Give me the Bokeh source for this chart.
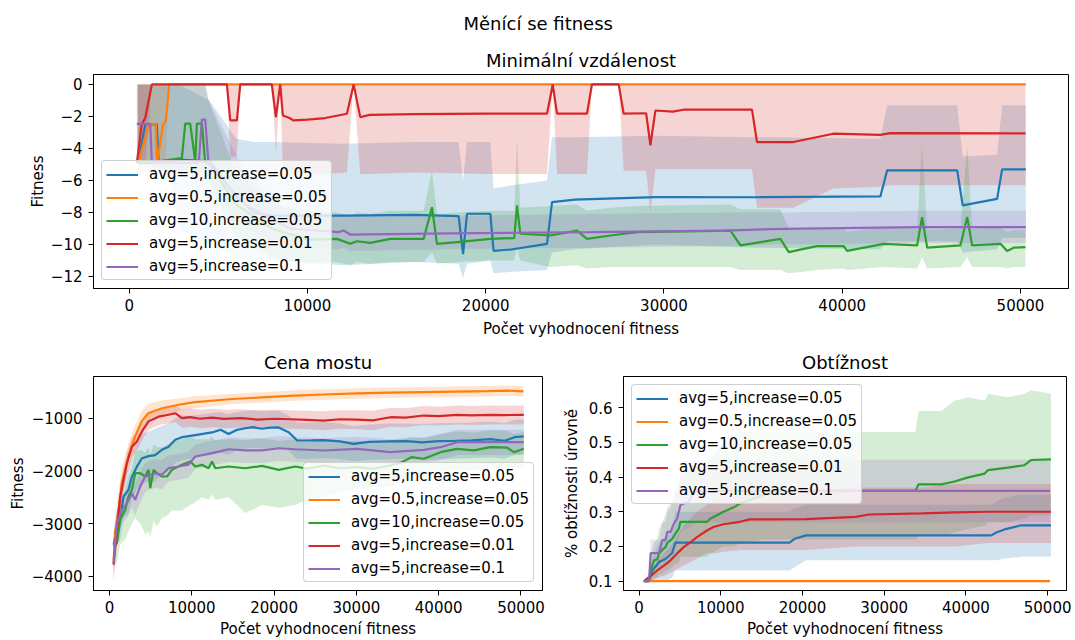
from bokeh.plotting import figure
from bokeh.layouts import column, row
from bokeh.models import Range1d, FixedTicker, Title
from bokeh.embed import file_html
from bokeh.resources import INLINE

FONT = "DejaVu Sans"

# ---------------- data ----------------
labels = ["avg=5,increase=0.05", "avg=0.5,increase=0.05", "avg=10,increase=0.05",
          "avg=5,increase=0.01", "avg=5,increase=0.1"]
colors = ["#1f77b4", "#ff7f0e", "#2ca02c", "#d62728", "#9467bd"]

x_ticks = [0, 10000, 20000, 30000, 40000, 50000]
x_tick_labels = ["0", "10000", "20000", "30000", "40000", "50000"]
mv_y_ticks = [-12, -10, -8, -6, -4, -2, 0]
mv_y_tick_labels = ["−12", "−10", "−8", "−6", "−4", "−2", "0"]
cm_y_ticks = [-4000, -3000, -2000, -1000]
cm_y_tick_labels = ["−4000", "−3000", "−2000", "−1000"]
ob_y_ticks = [0.1, 0.2, 0.3, 0.4, 0.5, 0.6]
ob_y_tick_labels = ["0.1", "0.2", "0.3", "0.4", "0.5", "0.6"]

# --- Minimální vzdálenost ---
mv_b_x = [500, 900, 1550, 1650, 2300, 2800, 4500, 6000, 7000, 8000, 12000, 16000, 18480, 18730, 18950, 20260, 20440,
          21500, 23440, 23720, 25000, 29500, 35000, 42140, 42520, 46450, 46760, 48690, 48970, 50300]
mv_b_m = [-4.9, -2.5, -2.5, -4.9, -4.9, -4.7, -4.8, -7.0, -8.0, -8.2, -8.2, -8.15, -8.23, -10.6, -8.08, -8.08, -10.4,
          -10.3, -9.96, -7.35, -7.2, -7.04, -7.05, -7.0, -5.37, -5.37, -7.56, -7.15, -5.31, -5.31]
mv_b_lo = [-5.0, -5.0, -5.0, -5.0, -6.0, -9.0, -10.0, -10.8, -11.0, -11.0, -11.3, -11.1, -11.2, -12.1, -11.2, -11.0,
           -11.8, -11.7, -11.6, -10.5, -10.3, -10.0, -10.2, -10.3, -9.8, -9.8, -10.5, -10.3, -9.6, -9.6]
mv_b_hi = [0, 0, 0, 0, 0, 0, -1.0, -3.4, -3.6, -3.6, -3.7, -3.6, -3.6, -6.0, -3.6, -3.6, -6.5, -6.3, -6.0, -3.3,
           -3.3, -3.2, -3.3, -3.4, -1.3, -1.3, -4.5, -4.4, -1.3, -1.3]

mv_o_x = [500, 1100, 1500, 1560, 1900, 2050, 2250, 50300]
mv_o_m = [-4.9, -2.5, -2.5, -4.9, -2.5, -2.3, 0.0, 0.0]
mv_o_lo = [-5.0, -5.0, -5.0, -5.0, -5.0, -4.6, 0.0, 0.0]
mv_o_hi = [0.0, 0.0, 0.0, 0.0, 0.0, 0.0, 0.0, 0.0]

mv_g_x = [500, 1000, 2955, 3143, 3423, 3704, 3797, 4077, 4265, 4452, 6000, 8000, 10000, 11655, 12400, 12776, 13524,
          14647, 16517, 16985, 17267, 18388, 20258, 21600, 21756, 21942, 23625, 25120, 25680, 26990, 28490, 33730,
          34290, 36530, 37000, 37840, 38590, 40085, 40270, 42330, 44200, 44480, 44765, 46630, 47010, 47290, 48880,
          49250, 49620, 50280]
mv_g_m = [-4.9, -4.9, -4.6, -2.45, -2.45, -4.8, -2.45, -2.45, -4.9, -4.9, -7.5, -9.0, -9.7, -9.65, -9.96, -9.8, -9.9,
          -9.65, -9.65, -7.67, -9.96, -9.85, -9.65, -9.6, -7.56, -9.33, -9.44, -9.13, -9.65, -9.44, -9.23, -9.13,
          -10.06, -9.65, -10.48, -10.27, -10.1, -10.1, -10.4, -9.96, -10.06, -8.29, -10.2, -10.06, -8.29, -10.06,
          -9.96, -10.4, -10.2, -10.17]
mv_g_lo = [-5.5, -5.5, -5.5, -5.5, -5.5, -5.5, -5.5, -5.5, -5.5, -6.0, -9.5, -10.8, -11.2, -11.1, -11.3, -11.1, -11.2,
           -11.1, -11.1, -10.5, -11.2, -11.1, -11.0, -11.0, -10.2, -11.0, -11.4, -11.3, -11.5, -11.4, -11.4, -11.4,
           -11.6, -11.6, -11.8, -11.7, -11.6, -11.5, -11.6, -11.4, -11.5, -10.8, -11.5, -11.4, -10.8, -11.4, -11.4,
           -11.5, -11.4, -11.4]
mv_g_hi = [0, 0, 0, 0, 0, 0, 0, 0, 0, -1.0, -5.5, -7.5, -7.9, -8.0, -8.2, -8.0, -8.1, -7.9, -7.9, -5.4, -8.1, -8.0,
           -7.9, -7.9, -3.3, -7.7, -7.6, -7.5, -7.9, -7.7, -7.6, -7.5, -7.8, -7.8, -9.0, -9.1, -9.0, -9.0, -9.2, -8.9,
           -9.0, -3.8, -9.1, -9.0, -3.8, -9.0, -8.9, -9.2, -9.1, -9.1]

mv_r_x = [430, 700, 900, 1270, 5480, 5670, 6040, 6230, 8000, 8230, 8470, 8620, 9000, 9200, 10000, 11000, 12215, 12590,
          12960, 13500, 16000, 20000, 23440, 23760, 24000, 25680, 25960, 27460, 27740, 29000, 29240, 29520, 30500,
          31080, 34940, 35220, 37260, 39500, 42140, 42700, 50280]
mv_r_m = [-4.9, -2.5, -2.1, 0.0, 0.0, -2.25, -2.25, 0.0, 0.0, -2.04, 0.0, -1.94, -2.1, -2.25, -2.2, -2.1, -1.83, 0.0,
          -2.04, -1.9, -1.85, -1.83, -1.83, 0.0, -1.83, -1.83, 0.0, 0.0, -1.83, -1.8, -3.8, -1.63, -1.7, -1.58, -1.58,
          -3.6, -3.6, -3.08, -3.15, -3.04, -3.06]
mv_r_lo = [-5.0, -5.0, -5.0, 0.0, 0.0, -4.5, -4.5, 0.0, 0.0, -4.3, 0.0, -5.3, -5.5, -5.6, -5.6, -5.6, -5.5, 0.0, -5.6,
           -5.6, -5.5, -5.6, -5.6, 0.0, -5.6, -5.6, 0.0, 0.0, -5.4, -5.4, -8.0, -5.3, -5.3, -5.3, -5.3, -7.7, -7.7,
           -6.5, -6.4, -6.3, -6.3]
mv_r_hi = [0.0, 0.0, 0.0, 0.0, 0.0, 0.0, 0.0, 0.0, 0.0, 0.0, 0.0, 0.0, 0.0, 0.0, 0.0, 0.0, 0.0, 0.0, 0.0, 0.0, 0.0,
           0.0, 0.0, 0.0, 0.0, 0.0, 0.0, 0.0, 0.0, 0.0, 0.0, 0.0, 0.0, 0.0, 0.0, 0.0, 0.0, 0.0, 0.0, 0.0, 0.0]

mv_p_x = [430, 1180, 1270, 3900, 4077, 4265, 4452, 6500, 9000, 11750, 12030, 12400, 18000, 25870, 33350, 36700, 44200,
          50300]
mv_p_m = [-2.46, -2.46, -4.9, -4.9, -2.2, -2.2, -5.0, -7.5, -9.0, -9.23, -9.13, -9.38, -9.3, -9.23, -9.13, -9.02,
          -8.92, -8.92]
mv_p_lo = [-5.0, -5.0, -5.5, -5.5, -5.5, -5.5, -6.0, -9.0, -10.2, -10.3, -10.2, -10.4, -10.3, -10.2, -10.1, -10.0,
           -9.9, -9.9]
mv_p_hi = [0, 0, 0, 0, 0, 0, -1.0, -5.5, -8.0, -8.2, -8.1, -8.2, -8.2, -8.1, -8.0, -8.0, -7.9, -7.9]

# --- Cena mostu ---
cm_b_x = [500, 900, 1300, 1700, 2310, 2720, 3330, 3940, 4745, 5555, 6370, 7175, 7990, 8800, 10420, 12450, 13500,
          14470, 15500, 16500, 17500, 18530, 19500, 20560, 21770, 22810, 24500, 26030, 28000, 29680, 31500, 34000,
          36000, 38000, 40000, 42000, 44000, 46290, 48000, 49200, 50340]
cm_b_m = [-3400, -3050, -2900, -2490, -2360, -2110, -1920, -1760, -1720, -1700, -1600, -1540, -1410, -1360, -1320,
          -1270, -1220, -1300, -1220, -1190, -1170, -1200, -1180, -1175, -1266, -1423, -1420, -1415, -1440, -1486,
          -1450, -1440, -1435, -1460, -1435, -1430, -1420, -1397, -1430, -1360, -1345]
cm_b_hi = [-3150, -2750, -2550, -2100, -1950, -1700, -1500, -1300, -1250, -1200, -1150, -1100, -1000, -950, -950,
           -900, -880, -920, -880, -860, -850, -870, -860, -860, -950, -1080, -1080, -1070, -1100, -1150, -1120,
           -1100, -1100, -1110, -1090, -1090, -1080, -1060, -1090, -1030, -1020]
cm_b_lo = [-3650, -3400, -3300, -2900, -2800, -2550, -2350, -2250, -2200, -2200, -2050, -2000, -1850, -1800, -1750,
           -1700, -1650, -1700, -1600, -1580, -1560, -1580, -1560, -1560, -1620, -1780, -1770, -1760, -1780, -1820,
           -1790, -1780, -1770, -1800, -1780, -1770, -1760, -1740, -1770, -1700, -1680]

cm_o_x = [500, 700, 1100, 1500, 2300, 3100, 3900, 4700, 6400, 8400, 10400, 14500, 18500, 22500, 26000, 30000, 34000,
          38000, 42000, 46000, 48500, 50300]
cm_o_m = [-3700, -3150, -2750, -2230, -1730, -1350, -1060, -905, -810, -745, -695, -640, -605, -570, -550, -530, -515,
          -505, -495, -487, -478, -490]
cm_o_hi = [-3400, -2850, -2420, -1930, -1480, -1130, -860, -725, -660, -625, -585, -540, -505, -470, -450, -430, -415,
           -405, -395, -387, -378, -390]
cm_o_lo = [-4000, -3450, -3080, -2530, -1980, -1570, -1260, -1085, -960, -865, -805, -740, -705, -670, -650, -630,
           -615, -605, -595, -587, -578, -590]

cm_g_x = [490, 900, 1300, 1910, 2310, 2720, 3125, 3730, 4340, 4745, 4950, 5350, 5760, 6370, 6980, 7580, 8800, 9810,
          10420, 11230, 12040, 12450, 12860, 14470, 16500, 18530, 20560, 22580, 24000, 26030, 28000, 30080, 32000,
          34130, 35480, 36700, 38190, 40220, 42240, 44260, 46290, 48320, 49130, 50340]
cm_g_m = [-3436, -3373, -2929, -2739, -2487, -2360, -2044, -2044, -2107, -1980, -2329, -1980, -2044, -2107, -2107,
          -1980, -1885, -1822, -1917, -1885, -1950, -1822, -1950, -1917, -1950, -1905, -1980, -1917, -1960, -1898,
          -1950, -1930, -1960, -1898, -1835, -1740, -1770, -1645, -1581, -1610, -1550, -1560, -1645, -1581]
cm_g_hi = [-3150, -3050, -2600, -2350, -2100, -1950, -1650, -1600, -1650, -1550, -1700, -1500, -1550, -1550, -1500,
           -1450, -1400, -1350, -1400, -1400, -1400, -1350, -1420, -1400, -1420, -1380, -1430, -1400, -1450, -1400,
           -1440, -1430, -1450, -1420, -1400, -1350, -1380, -1300, -1250, -1270, -1230, -1240, -1300, -1260]
cm_g_lo = [-3800, -3750, -3400, -3300, -3150, -3000, -2900, -3000, -3200, -3150, -3250, -2950, -3050, -2900, -2850,
           -2750, -2750, -2650, -2600, -2500, -2550, -2450, -2550, -2500, -2800, -2650, -2700, -2650, -2550, -2500,
           -2400, -2350, -2320, -2300, -2200, -2050, -2100, -2000, -1990, -2000, -1950, -1950, -1970, -1930]

cm_r_x = [490, 900, 1300, 1700, 2115, 2720, 3330, 3940, 4745, 5960, 7175, 7990, 8800, 9800, 11000, 12500, 13860,
          16000, 17910, 20000, 22000, 24000, 26030, 28000, 30080, 32000, 34130, 36000, 38190, 40000, 42240, 44000,
          46290, 48000, 50340]
cm_r_m = [-3780, -3120, -2490, -2170, -1850, -1540, -1440, -1250, -1060, -970, -935, -905, -1000, -980, -1010, -990,
          -1012, -1000, -1025, -1010, -1020, -1030, -1044, -1020, -1025, -1040, -981, -990, -949, -960, -936, -945,
          -936, -940, -936]
cm_r_hi = [-3530, -2870, -2240, -1940, -1650, -1360, -1270, -1090, -910, -820, -785, -755, -830, -810, -840, -820,
           -840, -830, -850, -840, -850, -860, -870, -850, -850, -860, -800, -810, -770, -780, -760, -770, -760, -765,
           -760]
cm_r_lo = [-4100, -3400, -2750, -2400, -2050, -1730, -1620, -1420, -1220, -1130, -1100, -1070, -1180, -1160, -1190,
           -1170, -1190, -1180, -1210, -1190, -1200, -1210, -1230, -1200, -1210, -1230, -1160, -1170, -1130, -1140,
           -1120, -1130, -1120, -1120, -1120]

cm_p_x = [490, 900, 1505, 2115, 2720, 3125, 3730, 4340, 4950, 5555, 6370, 7175, 8390, 9600, 10420, 12450, 13660,
          14470, 16500, 18530, 20560, 22580, 26030, 30080, 34130, 38190, 40220, 42240, 46290, 50340]
cm_p_m = [-3753, -2993, -2739, -2613, -2424, -2550, -2297, -2107, -2075, -2044, -2075, -1949, -1917, -1880, -1727,
          -1664, -1620, -1589, -1610, -1610, -1570, -1589, -1613, -1581, -1645, -1600, -1550, -1455, -1455, -1455]
cm_p_hi = [-3500, -2750, -2500, -2350, -2150, -2250, -2000, -1850, -1800, -1780, -1800, -1700, -1680, -1640, -1500,
           -1430, -1390, -1360, -1380, -1380, -1340, -1360, -1380, -1350, -1400, -1360, -1300, -1220, -1220, -1220]
cm_p_lo = [-4050, -3300, -3000, -2900, -2700, -2850, -2600, -2400, -2350, -2320, -2350, -2200, -2170, -2130, -1970,
           -1900, -1860, -1830, -1850, -1850, -1810, -1830, -1850, -1820, -1890, -1850, -1800, -1700, -1700, -1700]

# --- Obtížnost ---
ob_b_x = [607, 1215, 1620, 2025, 2430, 3239, 4049, 4453, 18420, 19030, 20440, 43110, 43720, 44730, 46760, 50400]
ob_b_m = [0.1, 0.1, 0.131, 0.142, 0.155, 0.164, 0.181, 0.211, 0.211, 0.222, 0.232, 0.232, 0.24, 0.249, 0.261, 0.261]
ob_b_hi = [0.1, 0.1, 0.17, 0.19, 0.21, 0.23, 0.25, 0.3, 0.3, 0.31, 0.32, 0.32, 0.33, 0.34, 0.35, 0.35]
ob_b_lo = [0.1, 0.1, 0.1, 0.1, 0.1, 0.1, 0.11, 0.131, 0.131, 0.14, 0.16, 0.16, 0.16, 0.165, 0.17, 0.17]

ob_o_x = [500, 50300]
ob_o_m = [0.1, 0.1]
ob_o_hi = [0.1, 0.1]
ob_o_lo = [0.1, 0.1]

ob_g_x = [607, 1215, 1417, 1822, 2227, 2430, 2834, 3239, 3442, 4049, 4453, 4858, 5061, 8300, 8705, 9515, 10320, 11540,
          12350, 13560, 15180, 17000, 33800, 34210, 37000, 38600, 40280, 42300, 42710, 45140, 47160, 47970, 50400]
ob_g_m = [0.1, 0.1, 0.131, 0.16, 0.163, 0.179, 0.19, 0.198, 0.21, 0.222, 0.237, 0.251, 0.271, 0.271, 0.28, 0.29, 0.3,
          0.312, 0.324, 0.334, 0.348, 0.36, 0.36, 0.379, 0.379, 0.387, 0.399, 0.41, 0.42, 0.427, 0.434, 0.449, 0.451]
ob_g_hi = [0.1, 0.1, 0.17, 0.21, 0.22, 0.25, 0.27, 0.29, 0.31, 0.33, 0.36, 0.38, 0.42, 0.43, 0.45, 0.48, 0.5, 0.52,
           0.53, 0.53, 0.53, 0.53, 0.53, 0.59, 0.59, 0.62, 0.63, 0.62, 0.64, 0.63, 0.64, 0.65, 0.64]
ob_g_lo = [0.1, 0.1, 0.1, 0.11, 0.11, 0.12, 0.12, 0.13, 0.13, 0.14, 0.15, 0.15, 0.17, 0.17, 0.18, 0.19, 0.2, 0.2,
           0.21, 0.21, 0.22, 0.22, 0.22, 0.23, 0.23, 0.24, 0.25, 0.26, 0.27, 0.27, 0.28, 0.29, 0.29]

ob_r_x = [607, 1417, 2227, 3037, 3847, 4656, 5465, 6275, 7085, 8300, 9110, 10320, 12350, 13560, 20440, 26520, 28140,
          34620, 38670, 42710, 50400]
ob_r_m = [0.1, 0.115, 0.131, 0.145, 0.16, 0.18, 0.198, 0.212, 0.227, 0.246, 0.256, 0.264, 0.271, 0.278, 0.279, 0.285,
          0.292, 0.295, 0.298, 0.3, 0.3]
ob_r_hi = [0.1, 0.13, 0.16, 0.18, 0.2, 0.23, 0.26, 0.28, 0.3, 0.32, 0.33, 0.34, 0.35, 0.36, 0.36, 0.37, 0.37, 0.37,
           0.38, 0.38, 0.38]
ob_r_lo = [0.1, 0.1, 0.11, 0.115, 0.125, 0.135, 0.145, 0.155, 0.165, 0.18, 0.18, 0.185, 0.19, 0.19, 0.19, 0.2, 0.2,
           0.2, 0.2, 0.21, 0.21]

ob_p_x = [607, 1215, 1417, 2430, 2630, 2834, 3239, 3442, 3847, 4251, 4656, 5061, 5465, 6072, 6500, 7000, 50300]
ob_p_m = [0.1, 0.1, 0.181, 0.181, 0.198, 0.218, 0.218, 0.242, 0.242, 0.266, 0.28, 0.319, 0.324, 0.328, 0.348, 0.36,
          0.36]
ob_p_hi = [0.1, 0.1, 0.22, 0.22, 0.24, 0.27, 0.27, 0.3, 0.31, 0.34, 0.36, 0.4, 0.41, 0.42, 0.44, 0.45, 0.45]
ob_p_lo = [0.1, 0.1, 0.14, 0.14, 0.15, 0.16, 0.16, 0.18, 0.18, 0.2, 0.21, 0.24, 0.25, 0.25, 0.26, 0.27, 0.27]

mv_series = [(mv_b_x, mv_b_m, mv_b_lo, mv_b_hi), (mv_o_x, mv_o_m, mv_o_lo, mv_o_hi),
             (mv_g_x, mv_g_m, mv_g_lo, mv_g_hi), (mv_r_x, mv_r_m, mv_r_lo, mv_r_hi),
             (mv_p_x, mv_p_m, mv_p_lo, mv_p_hi)]
cm_series = [(cm_b_x, cm_b_m, cm_b_lo, cm_b_hi), (cm_o_x, cm_o_m, cm_o_lo, cm_o_hi),
             (cm_g_x, cm_g_m, cm_g_lo, cm_g_hi), (cm_r_x, cm_r_m, cm_r_lo, cm_r_hi),
             (cm_p_x, cm_p_m, cm_p_lo, cm_p_hi)]
ob_series = [(ob_b_x, ob_b_m, ob_b_lo, ob_b_hi), (ob_o_x, ob_o_m, ob_o_lo, ob_o_hi),
             (ob_g_x, ob_g_m, ob_g_lo, ob_g_hi), (ob_r_x, ob_r_m, ob_r_lo, ob_r_hi),
             (ob_p_x, ob_p_m, ob_p_lo, ob_p_hi)]


# ---------------- figures ----------------
def style_title(t, align, standoff):
    t.align = align
    t.text_font = FONT
    t.text_font_size = "18px"
    t.text_font_style = "normal"
    t.text_color = "black"
    t.standoff = standoff


def make_fig(title, w, h, xr, yr, borders, ylabel, yticks, ylabels, xlab_standoff, ylab_standoff):
    bl, br, bt, bb = borders
    p = figure(width=w, height=h, x_range=Range1d(*xr), y_range=Range1d(*yr),
               output_backend="svg", toolbar_location=None, tools="", title=title,
               min_border_left=bl, min_border_right=br, min_border_top=bt, min_border_bottom=bb,
               x_axis_label="Počet vyhodnocení fitness", y_axis_label=ylabel)
    style_title(p.title, "center", 7)
    p.xgrid.visible = False
    p.ygrid.visible = False
    p.outline_line_color = "black"
    p.outline_line_width = 1
    p.outline_line_alpha = 1
    for ax in (p.xaxis[0], p.yaxis[0]):
        ax.major_tick_in = 0
        ax.major_tick_out = 5
        ax.minor_tick_line_color = None
        ax.axis_line_color = "black"
        ax.major_tick_line_color = "black"
        ax.major_label_text_font = FONT
        ax.major_label_text_font_size = "15px"
        ax.major_label_text_color = "black"
        ax.axis_label_text_font = FONT
        ax.axis_label_text_font_size = "15px"
        ax.axis_label_text_font_style = "normal"
        ax.axis_label_text_color = "black"
    p.xaxis[0].ticker = FixedTicker(ticks=x_ticks)
    p.xaxis[0].major_label_overrides = dict(zip(x_ticks, x_tick_labels))
    p.xaxis[0].major_label_standoff = 5
    p.xaxis[0].axis_label_standoff = xlab_standoff
    p.yaxis[0].ticker = FixedTicker(ticks=yticks)
    p.yaxis[0].major_label_overrides = dict(zip(yticks, ylabels))
    p.yaxis[0].major_label_standoff = 6
    p.yaxis[0].axis_label_standoff = ylab_standoff
    return p


def draw(p, series, loc):
    for (x, m, lo, hi), c in zip(series, colors):
        p.varea(x=x, y1=lo, y2=hi, fill_color=c, fill_alpha=0.2)
    for (x, m, lo, hi), c, lab in zip(series, colors, labels):
        p.line(x, m, line_color=c, line_width=2.2, legend_label=lab)
    lg = p.legend[0]
    lg.location = loc
    lg.label_text_font = FONT
    lg.label_text_font_size = "15px"
    lg.label_text_color = "black"
    lg.glyph_width = 32
    lg.glyph_height = 17
    lg.label_height = 17
    lg.label_standoff = 11
    lg.spacing = 5
    lg.padding = 4
    lg.margin = 8
    lg.border_line_color = "#cccccc"
    lg.border_line_alpha = 0.9
    lg.background_fill_alpha = 0.8
    if "border_radius" in lg.properties():
        lg.border_radius = 4


# top: suptitle is the figure title (outermost), subplot title added next to the frame
p_top = make_fig("Měnící se fitness", 1075, 340, (-2003, 52694), (-12.75, 0.62), (93, 7, 74, 52),
                 "Fitness", mv_y_ticks, mv_y_tick_labels, 6, 1)
style_title(p_top.title, "left", 20)
p_top.title.offset = 370
sub = Title(text="Minimální vzdálenost")
style_title(sub, "center", 8)
p_top.add_layout(sub, "above")
draw(p_top, mv_series, "bottom_left")

p_cm = make_fig("Cena mostu", 559, 300, (-1945, 52614), (-4271, -208), (93, 17, 36, 50),
                "Fitness", cm_y_ticks, cm_y_tick_labels, 4, 2)
draw(p_cm, cm_series, "bottom_right")

p_ob = make_fig("Obtížnost", 516, 300, (-1907, 52308), (0.0731, 0.6896), (60, 9, 36, 50),
                "% obtížnosti úrovně", ob_y_ticks, ob_y_tick_labels, 4, 5)
draw(p_ob, ob_series, "top_left")

layout = column(p_top, row(p_cm, p_ob))
open("out.html", "w").write(file_html(layout, INLINE))
